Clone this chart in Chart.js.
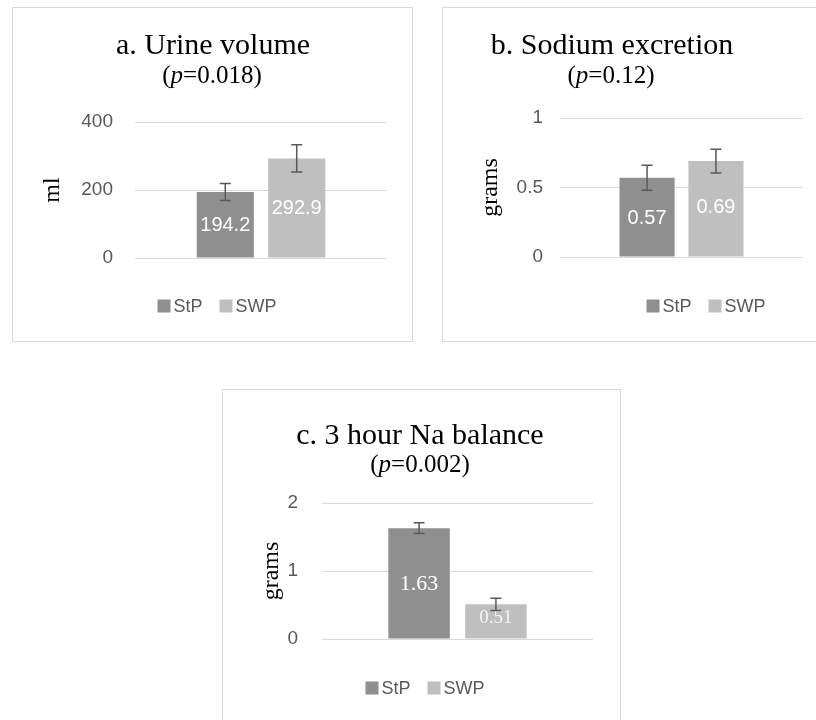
<!DOCTYPE html>
<html>
<head>
<meta charset="utf-8">
<script src="https://cdn.jsdelivr.net/npm/chart.js@4.4.1/dist/chart.umd.min.js"></script>
<style>
  html, body { margin: 0; padding: 0; background: #fff; }
  body { position: relative; width: 816px; height: 720px; overflow: hidden; }
  .panel { position: absolute; box-sizing: border-box; border: 1px solid #d9d9d9; }
  .panel canvas { position: absolute; left: 0; top: 0; }
  .ttl { position: absolute; width: 400px; text-align: center; white-space: nowrap;
         font-family: 'Liberation Serif', 'Times New Roman', serif; color: #000; }
  .ttl.main { font-size: 30px; line-height: 30px; }
  .ttl.sub { font-size: 25px; line-height: 25px; }
</style>
</head>
<body>
<div class="panel" style="left:12px;top:7px;width:401px;height:335px"><canvas id="chart-a" width="399" height="333"></canvas></div>
<div class="panel" style="left:442px;top:7px;width:401px;height:335px"><canvas id="chart-b" width="399" height="333"></canvas></div>
<div class="panel" style="left:222px;top:389px;width:399px;height:335px"><canvas id="chart-c" width="397" height="333"></canvas></div>

<div class="ttl main" id="t-a" style="left:13px;top:29px"></div>
<div class="ttl sub" id="s-a" style="left:12px;top:62px"></div>
<div class="ttl main" id="t-b" style="left:412px;top:29px"></div>
<div class="ttl sub" id="s-b" style="left:411px;top:62px"></div>
<div class="ttl main" id="t-c" style="left:220px;top:419px"></div>
<div class="ttl sub" id="s-c" style="left:220px;top:451px"></div>

<script>
'use strict';

// --- data ---
const seriesNames = ['StP', 'SWP'];

const panelTitles = ['a. Urine volume', 'b. Sodium excretion', 'c. 3 hour Na balance'];
const panelPValues = ['0.018', '0.12', '0.002'];
const panelUnits = ['ml', 'grams', 'grams'];

const volumeMeans = [194.2, 292.9];
const volumeErrors = [25, 40];
const volumeTicks = [0, 200, 400];

const sodiumMeans = [0.57, 0.69];
const sodiumErrors = [0.09, 0.085];
const sodiumTicks = [0, 0.5, 1];

const balanceMeans = [1.63, 0.51];
const balanceErrors = [0.08, 0.09];
const balanceTicks = [0, 1, 2];

// --- styles ---
const seriesColors = ['#8f8f8f', '#bfbfbf'];
const gridColor = '#d9d9d9';
const tickColor = '#595959';
const errColor = '#595959';
const sansFont = "'Liberation Sans', Arial, sans-serif";
const serifFont = "'Liberation Serif', 'Times New Roman', serif";

Chart.defaults.font.family = sansFont;

// titles are plain html text (italic p)
['a', 'b', 'c'].forEach((k, i) => {
    document.getElementById('t-' + k).textContent = panelTitles[i];
    document.getElementById('s-' + k).innerHTML = '(<i>p</i>=' + panelPValues[i] + ')';
});

function makeChart(id, p) {
    const canvas = document.getElementById(id);
    const W = canvas.width, H = canvas.height;

    // value labels + error bars
    const marks = {
        id: 'marks',
        afterDatasetsDraw(chart) {
            const ctx = chart.ctx;
            const y = chart.scales.y;
            ctx.save();
            chart.data.datasets.forEach((ds, i) => {
                const bar = chart.getDatasetMeta(i).data[0];
                const v = ds.data[0];
                // label
                ctx.fillStyle = p.labelColors[i];
                ctx.font = p.labelFonts[i];
                ctx.textAlign = 'center';
                ctx.textBaseline = 'middle';
                ctx.fillText(String(v), bar.x, bar.y + p.labelDy[i]);
                // error bar
                const e = p.errors[i];
                const yHi = y.getPixelForValue(v + e);
                const yLo = y.getPixelForValue(v - e);
                ctx.strokeStyle = errColor;
                ctx.lineWidth = 1.5;
                ctx.beginPath();
                ctx.moveTo(bar.x, yHi); ctx.lineTo(bar.x, yLo);
                ctx.moveTo(bar.x - 5.5, yHi); ctx.lineTo(bar.x + 5.5, yHi);
                ctx.moveTo(bar.x - 5.5, yLo); ctx.lineTo(bar.x + 5.5, yLo);
                ctx.stroke();
            });
            ctx.restore();
        }
    };

    // legend drawn by hand so it can sit off-centre like the original
    const boxLegend = {
        id: 'boxLegend',
        afterDraw(chart) {
            const ctx = chart.ctx;
            const box = 13, gap = 3, spacing = 17;
            ctx.save();
            ctx.font = '18px ' + sansFont;
            const items = chart.data.datasets.map(ds => ({
                text: ds.label, color: ds.backgroundColor, w: box + gap + ctx.measureText(ds.label).width
            }));
            const total = items.reduce((s, it) => s + it.w, 0) + spacing * (items.length - 1);
            let x = p.legendX - total / 2;
            items.forEach(it => {
                ctx.fillStyle = it.color;
                ctx.fillRect(x, p.legendY - box / 2, box, box);
                ctx.fillStyle = tickColor;
                ctx.textAlign = 'left';
                ctx.textBaseline = 'middle';
                ctx.fillText(it.text, x + box + gap, p.legendY + 1);
                x += it.w + spacing;
            });
            ctx.restore();
        }
    };

    return new Chart(canvas, {
        type: 'bar',
        data: {
            labels: [''],
            datasets: seriesNames.map((name, i) => ({
                label: name,
                data: [p.means[i]],
                backgroundColor: seriesColors[i],
                borderWidth: 0,
                categoryPercentage: 0.567,
                barPercentage: 0.8
            }))
        },
        options: {
            responsive: false,
            animation: false,
            devicePixelRatio: 1,
            layout: {
                padding: { left: 0, top: p.area.top, right: W - p.area.right, bottom: H - p.area.bottom }
            },
            plugins: {
                legend: { display: false },
                tooltip: { enabled: false }
            },
            scales: {
                x: { display: false },
                y: {
                    min: p.ticks[0],
                    max: p.ticks[p.ticks.length - 1],
                    ticks: {
                        stepSize: p.ticks[1] - p.ticks[0],
                        color: tickColor,
                        font: { size: 19 },
                        padding: p.tickGap,
                        callback: v => String(v)
                    },
                    grid: { color: gridColor, lineWidth: 1, drawTicks: false },
                    border: { display: false },
                    title: {
                        display: true,
                        text: p.unit,
                        color: '#000',
                        font: { family: serifFont, size: 24, lineHeight: 1 },
                        padding: { top: p.unitX - 12, bottom: 0 }
                    },
                    afterFit(scale) { scale.width = p.area.left; }
                }
            }
        },
        plugins: [marks, boxLegend]
    });
}

makeChart('chart-a', {
    means: volumeMeans, errors: volumeErrors, ticks: volumeTicks, unit: panelUnits[0],
    area: { left: 122, right: 374, top: 114, bottom: 250 },
    unitX: 40, tickGap: 22, legendX: 204, legendY: 298,
    labelDy: [34, 50],
    labelFonts: ['20px ' + sansFont, '20px ' + sansFont],
    labelColors: ['#ffffff', '#ffffff']
});

makeChart('chart-b', {
    means: sodiumMeans, errors: sodiumErrors, ticks: sodiumTicks, unit: panelUnits[1],
    area: { left: 117, right: 360, top: 110, bottom: 249 },
    unitX: 48, tickGap: 17, legendX: 263, legendY: 298,
    labelDy: [41, 46],
    labelFonts: ['20px ' + sansFont, '20px ' + sansFont],
    labelColors: ['#ffffff', '#ffffff']
});

makeChart('chart-c', {
    means: balanceMeans, errors: balanceErrors, ticks: balanceTicks, unit: panelUnits[2],
    area: { left: 99, right: 370, top: 113, bottom: 249 },
    unitX: 49, tickGap: 24, legendX: 202, legendY: 298,
    labelDy: [56, 14],
    labelFonts: ['22px ' + serifFont, '19px ' + serifFont],
    labelColors: ['#ffffff', '#f4f4f4']
});
</script>
</body>
</html>
